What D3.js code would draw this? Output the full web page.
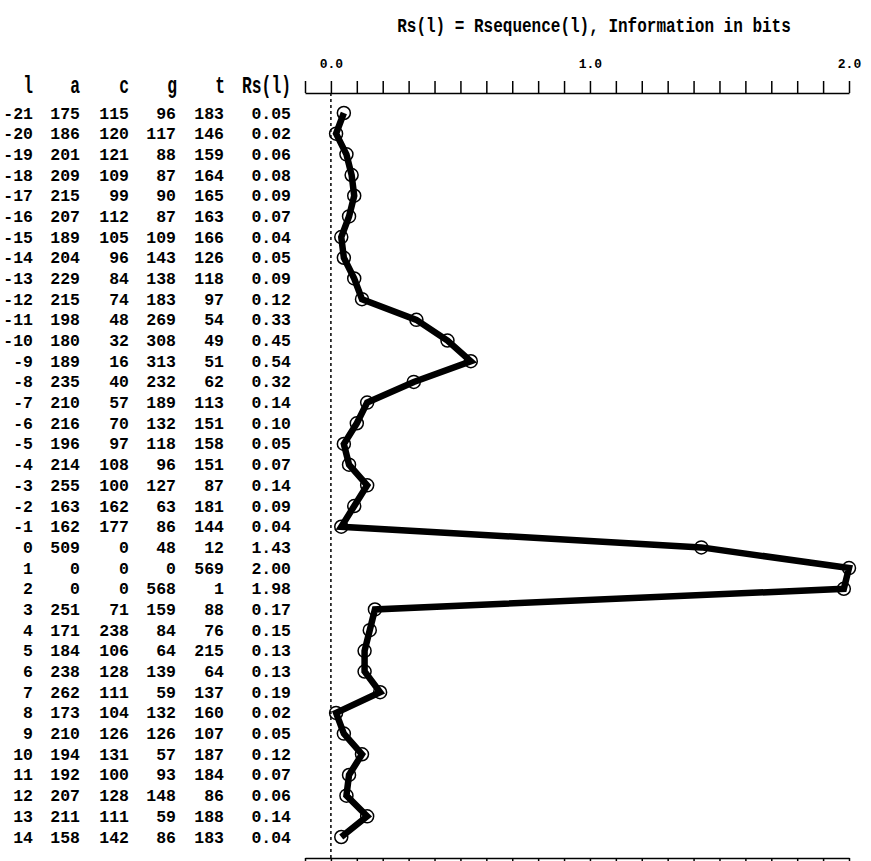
<!DOCTYPE html>
<html>
<head>
<meta charset="utf-8">
<script src="https://cdn.jsdelivr.net/npm/d3@7"></script>
<style>
  html, body { margin: 0; padding: 0; background: #fff; }
  svg { display: block; }
</style>
</head>
<body>
<div id="chart"></div>
<script>
// sequence positions and base counts
const positions = [-21,-20,-19,-18,-17,-16,-15,-14,-13,-12,-11,-10,-9,-8,-7,-6,-5,-4,-3,-2,-1,0,1,2,3,4,5,6,7,8,9,10,11,12,13,14];
const countA = [175,186,201,209,215,207,189,204,229,215,198,180,189,235,210,216,196,214,255,163,162,509,0,0,251,171,184,238,262,173,210,194,192,207,211,158];
const countC = [115,120,121,109,99,112,105,96,84,74,48,32,16,40,57,70,97,108,100,162,177,0,0,0,71,238,106,128,111,104,126,131,100,128,111,142];
const countG = [96,117,88,87,90,87,109,143,138,183,269,308,313,232,189,132,118,96,127,63,86,48,0,568,159,84,64,139,59,132,126,57,93,148,59,86];
const countT = [183,146,159,164,165,163,166,126,118,97,54,49,51,62,113,151,158,151,87,181,144,12,569,1,88,76,215,64,137,160,107,187,184,86,188,183];
const rseq = [0.05,0.02,0.06,0.08,0.09,0.07,0.04,0.05,0.09,0.12,0.33,0.45,0.54,0.32,0.14,0.10,0.05,0.07,0.14,0.09,0.04,1.43,2.00,1.98,0.17,0.15,0.13,0.13,0.19,0.02,0.05,0.12,0.07,0.06,0.14,0.04];

// axis ticks and labels
const tickValues = d3.range(-1, 21).map(d => d / 10);
const tickLabels = ["0.0", "1.0", "2.0"];
const headers = ["l", "a", "c", "g", "t", "Rs(l)"];
const title = "Rs(l) = Rsequence(l), Information in bits";

const width = 871, height = 861;
const axisTopY = 93, axisBottomY = 858;

const svg = d3.select("#chart").append("svg")
    .attr("width", width)
    .attr("height", height);

const x = d3.scaleLinear().domain([-0.1, 2.0]).range([305, 849]);
const y = d3.scalePoint().domain(positions).range([113, 837]);

const mono = "'Liberation Mono', 'Courier New', monospace";

// title
svg.append("text")
   .attr("transform", "translate(594,32) scale(0.8,1)")
   .attr("text-anchor", "middle")
   .style("font-family", mono)
   .style("font-size", "20px")
   .style("font-weight", "bold")
   .text(title);

// column headers
const headerX = [33, 80, 129, 177, 225, 291];
svg.selectAll(".hdr")
   .data(headers)
   .enter().append("text")
   .attr("class", "hdr")
   .attr("transform", (d, i) => "translate(" + headerX[i] + "," + axisTopY + ") scale(0.68,1)")
   .attr("text-anchor", "end")
   .style("font-family", mono)
   .style("font-size", "24px")
   .style("font-weight", "bold")
   .text(d => d);

// table rows
const columns = [
  { vals: positions, x: 33, fmt: d => d },
  { vals: countA, x: 80, fmt: d => d },
  { vals: countC, x: 129, fmt: d => d },
  { vals: countG, x: 176, fmt: d => d },
  { vals: countT, x: 224, fmt: d => d },
  { vals: rseq, x: 291, fmt: d => d.toFixed(2) }
];

columns.forEach(col => {
  svg.append("g").selectAll("text")
     .data(col.vals)
     .enter().append("text")
     .attr("x", col.x)
     .attr("y", (d, i) => y(positions[i]) + 5.5)
     .attr("text-anchor", "end")
     .style("font-family", mono)
     .style("font-size", "16.5px")
     .style("font-weight", "bold")
     .text(col.fmt);
});

// top axis
const topAxis = d3.axisTop(x)
    .tickValues(tickValues)
    .tickSize(12)
    .tickSizeOuter(0)
    .tickPadding(13)
    .tickFormat(d => {
      const s = d.toFixed(1);
      return tickLabels.indexOf(s) >= 0 ? s : "";
    });

const gTop = svg.append("g")
    .attr("transform", "translate(0," + axisTopY + ")")
    .call(topAxis);

// bottom axis
const bottomAxis = d3.axisBottom(x)
    .tickValues(tickValues)
    .tickSize(12)
    .tickSizeOuter(0)
    .tickFormat("");

const gBottom = svg.append("g")
    .attr("transform", "translate(0," + axisBottomY + ")")
    .call(bottomAxis);

[gTop, gBottom].forEach(g => {
  g.select(".domain").attr("stroke", "#000").attr("stroke-width", 1.5);
  g.selectAll(".tick line").attr("stroke", "#000").attr("stroke-width", 1.5);
  g.selectAll(".tick text")
   .attr("fill", "#000")
   .style("font-family", mono)
   .style("font-size", "13px")
   .style("font-weight", "bold");
});

// dashed zero line
svg.append("line")
   .attr("x1", x(0)).attr("x2", x(0))
   .attr("y1", axisTopY).attr("y2", axisBottomY)
   .attr("stroke", "#000")
   .attr("stroke-width", 1.5)
   .attr("stroke-dasharray", "3,3");

// Rs(l) line
const line = d3.line()
    .x(d => x(d))
    .y((d, i) => y(positions[i]));

svg.append("path")
   .datum(rseq)
   .attr("d", line)
   .attr("fill", "none")
   .attr("stroke", "#000")
   .attr("stroke-width", 6.5);

// points
svg.append("g").selectAll("circle")
   .data(rseq)
   .enter().append("circle")
   .attr("cx", d => x(d))
   .attr("cy", (d, i) => y(positions[i]))
   .attr("r", 6.5)
   .attr("fill", "none")
   .attr("stroke", "#000")
   .attr("stroke-width", 1.5);
</script>
</body>
</html>
